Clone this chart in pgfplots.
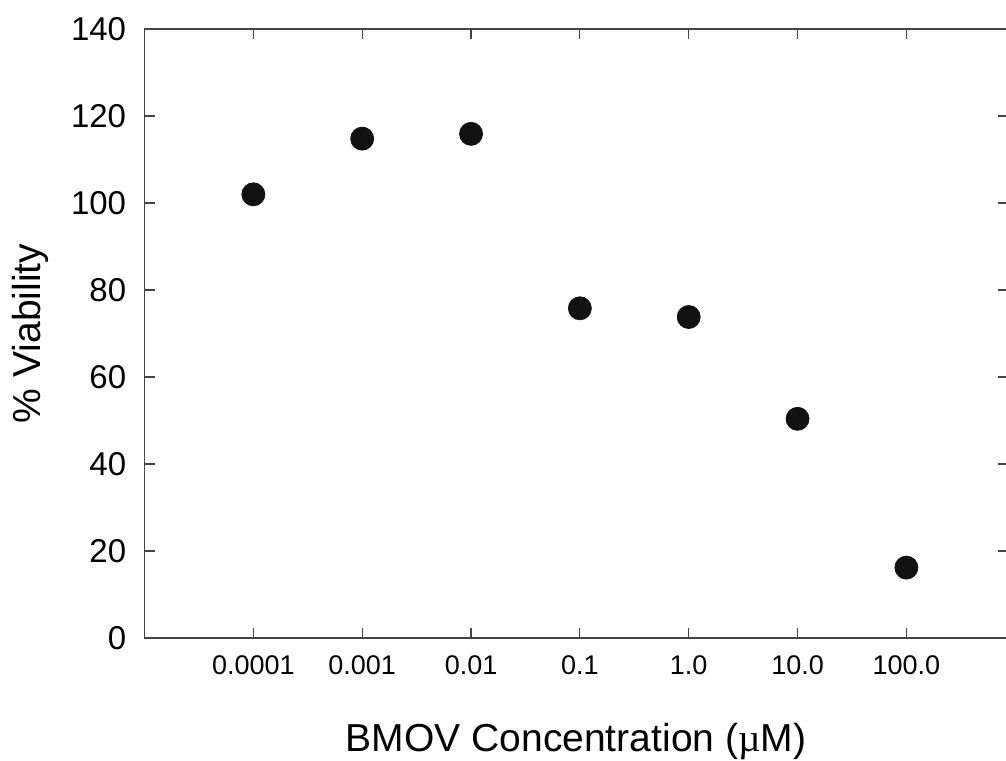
\documentclass[border=0pt]{standalone}
\usepackage{fontspec}
\setmainfont{Liberation Sans}
\newfontfamily\serifmu{Liberation Serif}
\usepackage{pgfplots}
\pgfplotsset{compat=1.18}
\definecolor{dotfill}{HTML}{111111}
\definecolor{axisgray}{HTML}{444444}

\begin{document}
\begin{tikzpicture}
\begin{axis}[
    scale only axis,
    width=431.5pt, height=304.5pt,
    xmin=-1, xmax=6.93,
    ymin=0, ymax=140,
    xtick={0,1,2,3,4,5,6},
    xticklabels={0.0001, 0.001, 0.01, 0.1, 1.0, 10.0, 100.0},
    ytick={0,20,...,140},
    tick align=inside,
    major tick length=5pt,
    tick style={axisgray, line width=0.6pt},
    axis line style={axisgray, line width=0.6pt},
    /pgf/number format/assume math mode=true,
    xticklabel style={font=\fontsize{13.5}{16}\selectfont, anchor=center, inner sep=0pt, yshift=-13.5pt},
    yticklabel style={font=\fontsize{16.5}{19}\selectfont, anchor=east, inner sep=0pt, xshift=-9pt},
    xlabel={BMOV Concentration ({\serifmu µ}M)},
    ylabel={\% Viability},
    xlabel style={font=\fontsize{19.5}{23}\selectfont, at={(axis description cs:0.5,0)}, anchor=center, yshift=-51.5pt},
    ylabel style={font=\fontsize{19.5}{23}\selectfont, at={(axis description cs:0,0.5)}, anchor=center, rotate=0, yshift=57.25pt},
]
\addplot[only marks, mark=*, mark size=5.75pt, mark options={fill=dotfill, draw=dotfill}] coordinates {
    (0, 102.0)
    (1, 114.8)
    (2, 115.9)
    (3, 75.8)
    (4, 73.8)
    (5, 50.4)
    (6, 16.2)
};
\coordinate (sw) at (rel axis cs:0,0);
\coordinate (ne) at (rel axis cs:1,1);
\end{axis}
\pgfresetboundingbox
\useasboundingbox ([xshift=-72.25pt,yshift=-61pt]sw) rectangle ([xshift=-0.8pt,yshift=14.5pt]ne);
\end{tikzpicture}
\end{document}
